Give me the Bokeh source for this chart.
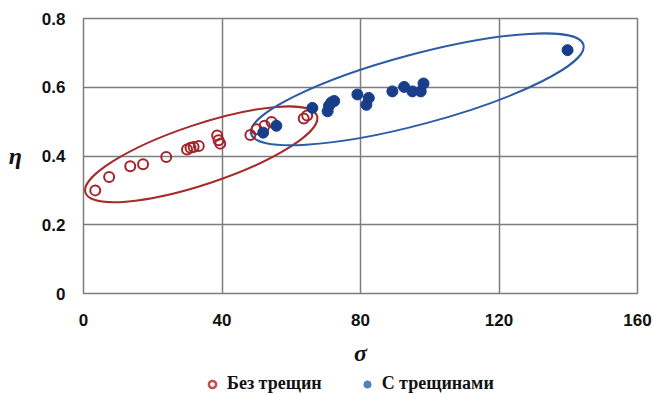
from bokeh.plotting import figure
from bokeh.models import Legend, LegendItem, FixedTicker, Range1d
from bokeh.layouts import column
from bokeh.embed import file_html
from bokeh.resources import INLINE

# --- data ---
red_x = [3.4, 7.4, 13.5, 17.2, 23.9, 29.9, 30.9, 31.8, 33.3, 38.6, 39.0, 39.5,
         48.2, 50.0, 52.3, 54.3, 63.6, 64.6]
red_y = [0.300, 0.339, 0.370, 0.376, 0.397, 0.419, 0.424, 0.426, 0.429, 0.460,
         0.446, 0.436, 0.461, 0.478, 0.488, 0.499, 0.509, 0.518]

blue_x = [51.9, 55.7, 66.1, 70.5, 70.9, 71.6, 72.4, 79.1, 82.4, 81.7, 89.2, 92.6,
          95.0, 97.4, 98.2, 139.8]
blue_y = [0.468, 0.488, 0.540, 0.530, 0.546, 0.556, 0.560, 0.579, 0.569, 0.549,
          0.588, 0.601, 0.588, 0.588, 0.611, 0.708]

series_names = ["Без трещин", "С трещинами"]

x_ticks = [0, 40, 80, 120, 160]
y_ticks = [0, 0.2, 0.4, 0.6, 0.8]
y_tick_labels = ["0", "0.2", "0.4", "0.6", "0.8"]

# hand-drawn ellipses: centre (data), size (px), angle (deg)
ell_red = dict(x=34.0, y=0.405, w=244, h=60, angle=18.4)
ell_blue = dict(x=96.4, y=0.594, w=344, h=70, angle=15.0)

RED = "#a3252a"
BLUE = "#173d8b"
GRID = "#7d7d7d"

p = figure(width=653, height=374, output_backend="svg", toolbar_location=None,
           x_range=Range1d(0, 160), y_range=Range1d(0, 0.8),
           min_border_left=83, min_border_right=16, min_border_top=18,
           min_border_bottom=81)

p.background_fill_color = "white"
p.border_fill_color = "white"
p.outline_line_color = GRID
p.outline_line_width = 1.5

p.xaxis.ticker = FixedTicker(ticks=x_ticks)
p.yaxis.ticker = FixedTicker(ticks=y_ticks)
p.yaxis.major_label_overrides = dict(zip(y_ticks, y_tick_labels))

for ax in (p.xaxis, p.yaxis):
    ax.axis_line_color = None
    ax.major_tick_line_color = None
    ax.minor_tick_line_color = None
    ax.major_tick_out = 0
    ax.major_tick_in = 0
    ax.major_label_text_font = "Liberation Sans"
    ax.major_label_text_font_style = "bold"
    ax.major_label_text_font_size = "17px"
    ax.major_label_text_color = "#111111"
    ax.axis_label_text_font = "Liberation Serif"
    ax.axis_label_text_font_style = "bold italic"
    ax.axis_label_text_font_size = "24px"
    ax.axis_label_text_color = "#111111"

p.xaxis.axis_label = "σ"
p.yaxis.axis_label = "η"
p.yaxis.axis_label_orientation = "horizontal"
p.xaxis.major_label_standoff = 20
p.xaxis.axis_label_standoff = 11
p.yaxis.major_label_standoff = 18
p.yaxis.axis_label_standoff = 17

p.grid.grid_line_color = GRID
p.grid.grid_line_width = 1.5

# ellipses
p.ellipse(x=[ell_red["x"]], y=[ell_red["y"]], width=ell_red["w"], height=ell_red["h"],
          width_units="screen", height_units="screen",
          angle=ell_red["angle"], angle_units="deg",
          fill_color=None, line_color="#a52a2a", line_width=2)
p.ellipse(x=[ell_blue["x"]], y=[ell_blue["y"]], width=ell_blue["w"], height=ell_blue["h"],
          width_units="screen", height_units="screen",
          angle=ell_blue["angle"], angle_units="deg",
          fill_color=None, line_color="#2d5ca6", line_width=2)

# points
p.scatter(red_x, red_y, size=10, marker="circle", fill_color=None,
          line_color=RED, line_width=2)
p.scatter(blue_x, blue_y, size=11, marker="circle", fill_color=BLUE,
          line_color=BLUE, line_width=1)

# legend strip below the chart (its own small figure; its frame aligns with p's)
lg = figure(width=653, height=20, output_backend="svg", toolbar_location=None,
            x_range=Range1d(1000, 1001), y_range=Range1d(1000, 1001),
            min_border=0)
lg.axis.visible = False
lg.grid.visible = False
lg.outline_line_color = None
lg.background_fill_color = "white"
lg.border_fill_color = "white"

# same series, outside this strip's ranges: only their legend glyphs show
lg_red = lg.scatter(red_x, red_y, size=8, marker="circle", fill_color=None,
                    line_color="#c0504d", line_width=2.5)
lg_blue = lg.scatter(blue_x, blue_y, size=9, marker="circle", fill_color="#4f81bd",
                     line_color="#4f81bd")

legend = Legend(items=[LegendItem(label=series_names[0], renderers=[lg_red]),
                       LegendItem(label=series_names[1], renderers=[lg_blue])],
                orientation="horizontal", location=(120, 0),
                label_text_font="Liberation Serif", label_text_font_style="bold",
                label_text_font_size="18px", label_text_color="#111111",
                glyph_width=18, glyph_height=18, label_standoff=6,
                spacing=36, padding=0, margin=0, label_height=18,
                border_line_color=None, background_fill_alpha=0)
lg.add_layout(legend, "center")

layout = column(p, lg, spacing=0)
open("out.html", "w").write(file_html(layout, INLINE))
